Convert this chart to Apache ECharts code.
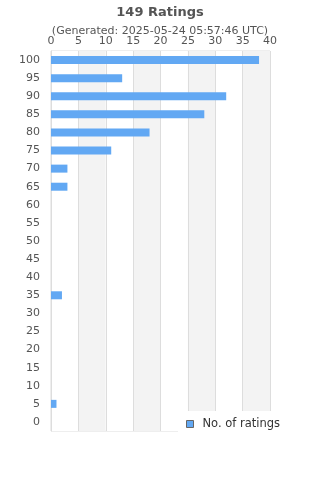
<!DOCTYPE html>
<html>
<head>
<meta charset="utf-8">
<script src="https://cdn.jsdelivr.net/npm/echarts@6/dist/echarts.min.js"></script>
<style>
html, body { margin: 0; padding: 0; background: #fff; }
#chart { width: 320px; height: 480px; }
</style>
</head>
<body>
<div id="chart"></div>
<script>
// rating buckets, top to bottom is 100 .. 0 (axis inverted)
var ratingCats = ['0', '5', '10', '15', '20', '25', '30', '35', '40', '45', '50',
	'55', '60', '65', '70', '75', '80', '85', '90', '95', '100'];
var ratingCounts = [0, 1, 0, 0, 0, 0, 0, 2, 0, 0, 0,
	0, 0, 3, 3, 11, 18, 28, 32, 13, 38];
var seriesName = 'No. of ratings';
var titleText = '149 Ratings';
var subText = '(Generated: 2025-05-24 05:57:46 UTC)';

var chart = echarts.init(document.getElementById('chart'));
var option = {
	textStyle: { fontFamily: 'DejaVu Sans' },
	title: {
		text: titleText,
		subtext: subText,
		left: 'center',
		top: 1,
		itemGap: 7,
		textStyle: { fontSize: 13, fontWeight: 'bold', color: '#555' },
		subtextStyle: { fontSize: 11, color: '#555' }
	},
	legend: {
		data: [seriesName],
		left: 178,
		top: 411,
		icon: 'rect',
		itemWidth: 7,
		itemHeight: 7,
		padding: [7, 10, 5, 8],
		backgroundColor: '#fff',
		z: 10,
		itemStyle: { borderColor: '#666', borderWidth: 1 },
		textStyle: { fontSize: 11.5, color: '#333', padding: [0, 0, 0, 4] }
	},
	grid: {
		left: 51,
		right: 50,
		top: 51,
		bottom: 49,
		show: true,
		borderColor: '#ddd',
		borderWidth: 1,
		containLabel: false
	},
	xAxis: {
		type: 'value',
		position: 'top',
		min: 0,
		max: 40,
		interval: 5,
		axisLine: { show: false },
		axisTick: { show: false },
		axisLabel: { fontSize: 11, color: '#555', margin: 4 },
		splitLine: { show: true, lineStyle: { color: '#ddd' } },
		splitArea: { show: true, areaStyle: { color: ['#fff', '#f3f3f3'] } }
	},
	yAxis: {
		type: 'category',
		data: ratingCats,
		axisLine: { show: true, lineStyle: { color: '#ddd' } },
		axisTick: { show: false },
		axisLabel: { fontSize: 11, color: '#555', margin: 11, interval: 0 }
	},
	series: [{
		name: seriesName,
		type: 'bar',
		data: ratingCounts,
		barWidth: 8,
		itemStyle: { color: '#62a8f3' }
	}]
};
chart.setOption(option);
</script>
</body>
</html>
